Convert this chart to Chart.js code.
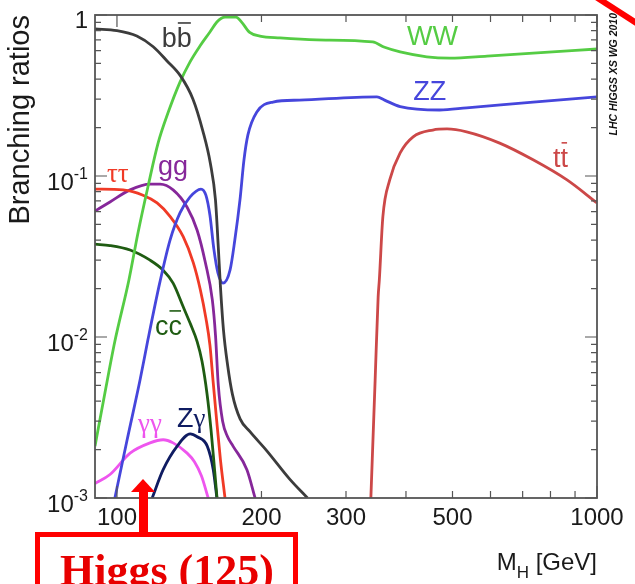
<!DOCTYPE html>
<html>
<head>
<meta charset="utf-8">
<title>Higgs branching ratios</title>
<script src="https://cdn.jsdelivr.net/npm/chart.js@4.4.1/dist/chart.umd.min.js"></script>
<style>
  html, body { margin: 0; padding: 0; background: #fff; }
  canvas { display: block; }
</style>
</head>
<body>
<canvas id="brChart" width="635" height="584"></canvas>
<script>
const bbbar = [[90, 0.82], [100, 0.80], [110, 0.74], [119, 0.635], [127, 0.52], [135.5, 0.42], [144, 0.30],
  [151, 0.19], [156.5, 0.12], [160.4, 0.071], [162.6, 0.036], [164.2, 0.021], [166.7, 0.011], [170, 0.0067],
  [174, 0.0044], [180.5, 0.0031], [189.3, 0.00258], [205, 0.00197], [229, 0.00131], [249.4, 0.001]];
const ww = [[90, 0.0021], [94.4, 0.0045], [99, 0.0094], [105.9, 0.0226], [110.6, 0.0443], [116, 0.0855],
  [121.8, 0.160], [127.7, 0.246], [135.3, 0.383], [141.9, 0.51], [148.9, 0.642], [156.2, 0.784], [161.5, 0.905],
  [165, 0.955], [168, 0.97], [177, 0.97], [182, 0.90], [189, 0.78], [198.5, 0.74], [218.6, 0.72], [261, 0.70],
  [341, 0.68], [361, 0.63], [389, 0.59], [442, 0.55], [494, 0.54], [590, 0.556], [736, 0.58], [1000, 0.615]];
const zz = [[99, 0.001], [105, 0.0023], [111.7, 0.0054], [116, 0.0096], [122.9, 0.022], [129, 0.040],
  [135.3, 0.059], [141.9, 0.074], [149.6, 0.083], [153.2, 0.076], [156.2, 0.057], [159.2, 0.035],
  [162.3, 0.025], [166.3, 0.0216], [172, 0.026], [176, 0.040], [180.4, 0.071], [183.9, 0.126], [187.4, 0.18],
  [195.6, 0.25], [211.4, 0.288], [240, 0.296], [348, 0.31], [361, 0.296], [389, 0.27], [470, 0.257],
  [535, 0.265], [736, 0.288], [1000, 0.31]];
const ttbar = [[338, 0.001], [345, 0.0054], [350, 0.0177], [352, 0.0226], [358, 0.0557], [370, 0.0945],
  [389, 0.139], [414, 0.175], [455, 0.193], [487, 0.196], [535, 0.188], [627, 0.16], [736, 0.126],
  [866, 0.0945], [1000, 0.068]];
const tautau = [[90, 0.083], [103, 0.082], [113.3, 0.076], [121.2, 0.068], [129.1, 0.056], [137.4, 0.042],
  [144.2, 0.029], [149.2, 0.0196], [153.2, 0.0131], [156.2, 0.0089], [158.5, 0.0054], [161.2, 0.0031],
  [164.3, 0.00172], [167.9, 0.001]];
const gluglu = [[90, 0.0605], [96.7, 0.069], [106.5, 0.082], [117.2, 0.089], [123, 0.089], [130.9, 0.082],
  [140, 0.064], [146.9, 0.046], [152.8, 0.029], [158, 0.017], [160.4, 0.0103], [162.6, 0.0050],
  [166, 0.0030], [170, 0.0024], [174.5, 0.0021], [186.5, 0.0015], [194, 0.001]];
const ccbar = [[90, 0.0377], [96.7, 0.037], [106.5, 0.0347], [117.2, 0.030], [124.8, 0.026], [130.9, 0.0216],
  [137.4, 0.0154], [142, 0.0122], [146.9, 0.00935], [150.4, 0.00704], [154, 0.00446], [157, 0.00266],
  [159.7, 0.0015], [161.6, 0.001]];
const zgamma = [[118.4, 0.001], [124.8, 0.0015], [133.5, 0.0021], [142.1, 0.0025], [146.9, 0.0024],
  [154.2, 0.0021], [158.7, 0.0015], [161.5, 0.001]];
const gamgam = [[90, 0.00123], [96.7, 0.0014], [106.5, 0.0019], [117.2, 0.0022], [124.8, 0.0023],
  [130.9, 0.0022], [140, 0.0019], [145, 0.00168], [150, 0.00137], [154.9, 0.001]];

// axis ticks
const xTickValues = [100, 200, 300, 400, 500, 600, 700, 800, 900, 1000];
const xTickLabels = [100, 200, 300, 500, 1000];
const yTickValues = [0.001, 0.002, 0.003, 0.004, 0.005, 0.006, 0.007, 0.008, 0.009,
  0.01, 0.02, 0.03, 0.04, 0.05, 0.06, 0.07, 0.08, 0.09,
  0.1, 0.2, 0.3, 0.4, 0.5, 0.6, 0.7, 0.8, 0.9, 1];
// y labels as [value, base, exponent]
const yTickLabels = [[1, '1', ''], [0.1, '10', '-1'], [0.01, '10', '-2'], [0.001, '10', '-3']];

const SANS = '"Liberation Sans", Arial, Helvetica, sans-serif';
const SERIF = '"Liberation Serif", "Times New Roman", serif';

const series = [
  { name: 'bb', points: bbbar, color: '#3c3c3c' },
  { name: 'WW', points: ww, color: '#55cc44' },
  { name: 'ZZ', points: zz, color: '#4646dc' },
  { name: 'tt', points: ttbar, color: '#cc4848' },
  { name: 'tautau', points: tautau, color: '#f03a26' },
  { name: 'gg', points: gluglu, color: '#86279a' },
  { name: 'cc', points: ccbar, color: '#1f5c12' },
  { name: 'Zgamma', points: zgamma, color: '#0f1c62' },
  { name: 'gammagamma', points: gamgam, color: '#ee55ee' }
];

// curve labels: parts are [text, font, overline], anchored at [M_H, BR] (left, baseline)
const curveLabels = [
  { parts: [['b', SANS], ['b', SANS, true]], color: '#3c3c3c', at: [124, 0.633] },
  { parts: [['WW', SANS]], color: '#55cc44', at: [402, 0.651] },
  { parts: [['ZZ', SANS]], color: '#4646dc', at: [414, 0.296] },
  { parts: [['t', SANS], ['t', SANS, true]], color: '#cc4848', at: [810, 0.114] },
  { parts: [['ττ', SERIF]], color: '#f03a26', at: [95.3, 0.092] },
  { parts: [['gg', SANS]], color: '#86279a', at: [121.8, 0.1018] },
  { parts: [['c', SANS], ['c', SANS, true]], color: '#1f5c12', at: [120, 0.0103] },
  { parts: [['Z', SANS], ['γ', SERIF]], color: '#0f1c62', at: [133.4, 0.00275] },
  { parts: [['γγ', SERIF]], color: '#ee55ee', at: [110.6, 0.00258] }
];

const isDecade = v => Math.abs(Math.log10(v) - Math.round(Math.log10(v))) < 1e-6;

// frame with inward tick marks on all four sides, plus the y tick labels
const framePlugin = {
  id: 'frame',
  afterDatasetsDraw(chart) {
    const { ctx, chartArea: a, scales: { x, y } } = chart;
    ctx.save();
    ctx.strokeStyle = '#555';
    ctx.lineWidth = 1.2;
    ctx.beginPath();
    xTickValues.forEach(v => {
      const px = x.getPixelForValue(v);
      const len = isDecade(v) ? 12 : 7;
      ctx.moveTo(px, a.bottom); ctx.lineTo(px, a.bottom - len);
      ctx.moveTo(px, a.top); ctx.lineTo(px, a.top + len);
    });
    yTickValues.forEach(v => {
      const py = y.getPixelForValue(v);
      const len = isDecade(v) ? 12 : 6;
      ctx.moveTo(a.left, py); ctx.lineTo(a.left + len, py);
      ctx.moveTo(a.right, py); ctx.lineTo(a.right - len, py);
    });
    ctx.stroke();
    ctx.lineWidth = 1.8;
    ctx.strokeRect(a.left, a.top, a.right - a.left, a.bottom - a.top);

    ctx.fillStyle = '#1a1a1a';
    ctx.textAlign = 'right';
    ctx.textBaseline = 'alphabetic';
    const right = a.left - 7;
    yTickLabels.forEach(([v, base, exp]) => {
      const py = y.getPixelForValue(v);
      if (!exp) {
        ctx.font = '24px ' + SANS;
        ctx.fillText(base, right, py + 13);
        return;
      }
      ctx.font = '16px ' + SANS;
      const wExp = ctx.measureText(exp).width;
      ctx.fillText(exp, right, py + 3);
      ctx.font = '24px ' + SANS;
      ctx.fillText(base, right - wExp, py + 14);
    });
    ctx.restore();
  }
};

// curve names, x-axis title and side caption
const textPlugin = {
  id: 'texts',
  afterDraw(chart) {
    const { ctx, chartArea: a, scales: { x, y } } = chart;
    ctx.save();
    ctx.textBaseline = 'alphabetic';
    ctx.textAlign = 'left';
    curveLabels.forEach(lbl => {
      let px = x.getPixelForValue(lbl.at[0]);
      const py = y.getPixelForValue(lbl.at[1]);
      ctx.fillStyle = lbl.color;
      ctx.strokeStyle = lbl.color;
      lbl.parts.forEach(([txt, fam, bar]) => {
        ctx.font = '27px ' + fam;
        const w = ctx.measureText(txt).width;
        ctx.fillText(txt, px, py);
        if (bar) {
          ctx.lineWidth = 1.6;
          ctx.beginPath();
          ctx.moveTo(px + 1, py - 24);
          ctx.lineTo(px + w - 1, py - 24);
          ctx.stroke();
        }
        px += w;
      });
    });

    // M_H [GeV]
    ctx.fillStyle = '#1a1a1a';
    ctx.font = '24px ' + SANS;
    const tail = ' [GeV]';
    const wTail = ctx.measureText(tail).width;
    const wM = ctx.measureText('M').width;
    ctx.font = '17px ' + SANS;
    const wH = ctx.measureText('H').width;
    const tx = a.right - wTail - wH - wM;
    ctx.font = '24px ' + SANS;
    ctx.fillText('M', tx, 570);
    ctx.font = '17px ' + SANS;
    ctx.fillText('H', tx + wM, 578);
    ctx.font = '24px ' + SANS;
    ctx.fillText(tail, tx + wM + wH, 570);

    // collaboration caption
    ctx.save();
    ctx.translate(617, 13);
    ctx.rotate(-Math.PI / 2);
    ctx.textAlign = 'right';
    ctx.font = 'italic bold 10.5px ' + SANS;
    ctx.fillStyle = '#111';
    ctx.fillText('LHC HIGGS XS WG 2010', 0, 0);
    ctx.restore();

    // slide annotations in red
    ctx.strokeStyle = '#ff0000';
    ctx.fillStyle = '#ff0000';
    ctx.lineWidth = 6;
    ctx.beginPath();
    ctx.moveTo(596, -3);
    ctx.lineTo(641, 26);
    ctx.stroke();

    ctx.lineWidth = 5;
    ctx.strokeRect(37.5, 534.5, 258, 80);
    ctx.fillRect(139, 489, 9, 44);
    ctx.beginPath();
    ctx.moveTo(131, 492);
    ctx.lineTo(155, 492);
    ctx.lineTo(143, 479);
    ctx.closePath();
    ctx.fill();
    ctx.fillStyle = '#e80000';
    ctx.font = 'bold 44px ' + SERIF;
    ctx.fillText('Higgs (125)', 60, 585);
    ctx.restore();
  }
};

const ctx = document.getElementById('brChart').getContext('2d');
const brChart = new Chart(ctx, {
  type: 'line',
  data: {
    datasets: series.map(s => ({
      label: s.name,
      data: s.points.map(([m, br]) => ({ x: m, y: br })),
      borderColor: s.color,
      backgroundColor: s.color,
      borderWidth: 2.8,
      pointRadius: 0,
      fill: false,
      cubicInterpolationMode: 'monotone',
      clip: 0
    }))
  },
  options: {
    responsive: false,
    animation: false,
    events: [],
    layout: { padding: { top: 15, right: 38, left: 0, bottom: 0 } },
    plugins: {
      legend: { display: false },
      tooltip: { enabled: false }
    },
    scales: {
      x: {
        type: 'logarithmic',
        min: 90,
        max: 1000,
        afterBuildTicks: s => { s.ticks = xTickValues.map(v => ({ value: v })); },
        afterFit: s => { s.height = 86; },
        grid: { display: false, drawTicks: false },
        border: { display: false },
        ticks: {
          autoSkip: false,
          maxRotation: 0,
          padding: 6,
          color: '#1a1a1a',
          font: { family: SANS, size: 24 },
          callback: v => xTickLabels.includes(v) ? String(v) : ''
        }
      },
      y: {
        type: 'logarithmic',
        min: 0.001,
        max: 1,
        afterBuildTicks: s => { s.ticks = yTickValues.map(v => ({ value: v })); },
        afterFit: s => { s.width = 95; },
        grid: { display: false, drawTicks: false },
        border: { display: false },
        ticks: { display: false },
        title: {
          display: true,
          text: 'Branching ratios',
          align: 'end',
          color: '#1a1a1a',
          font: { family: SANS, size: 29 }
        }
      }
    }
  },
  plugins: [framePlugin, textPlugin]
});
</script>
</body>
</html>
